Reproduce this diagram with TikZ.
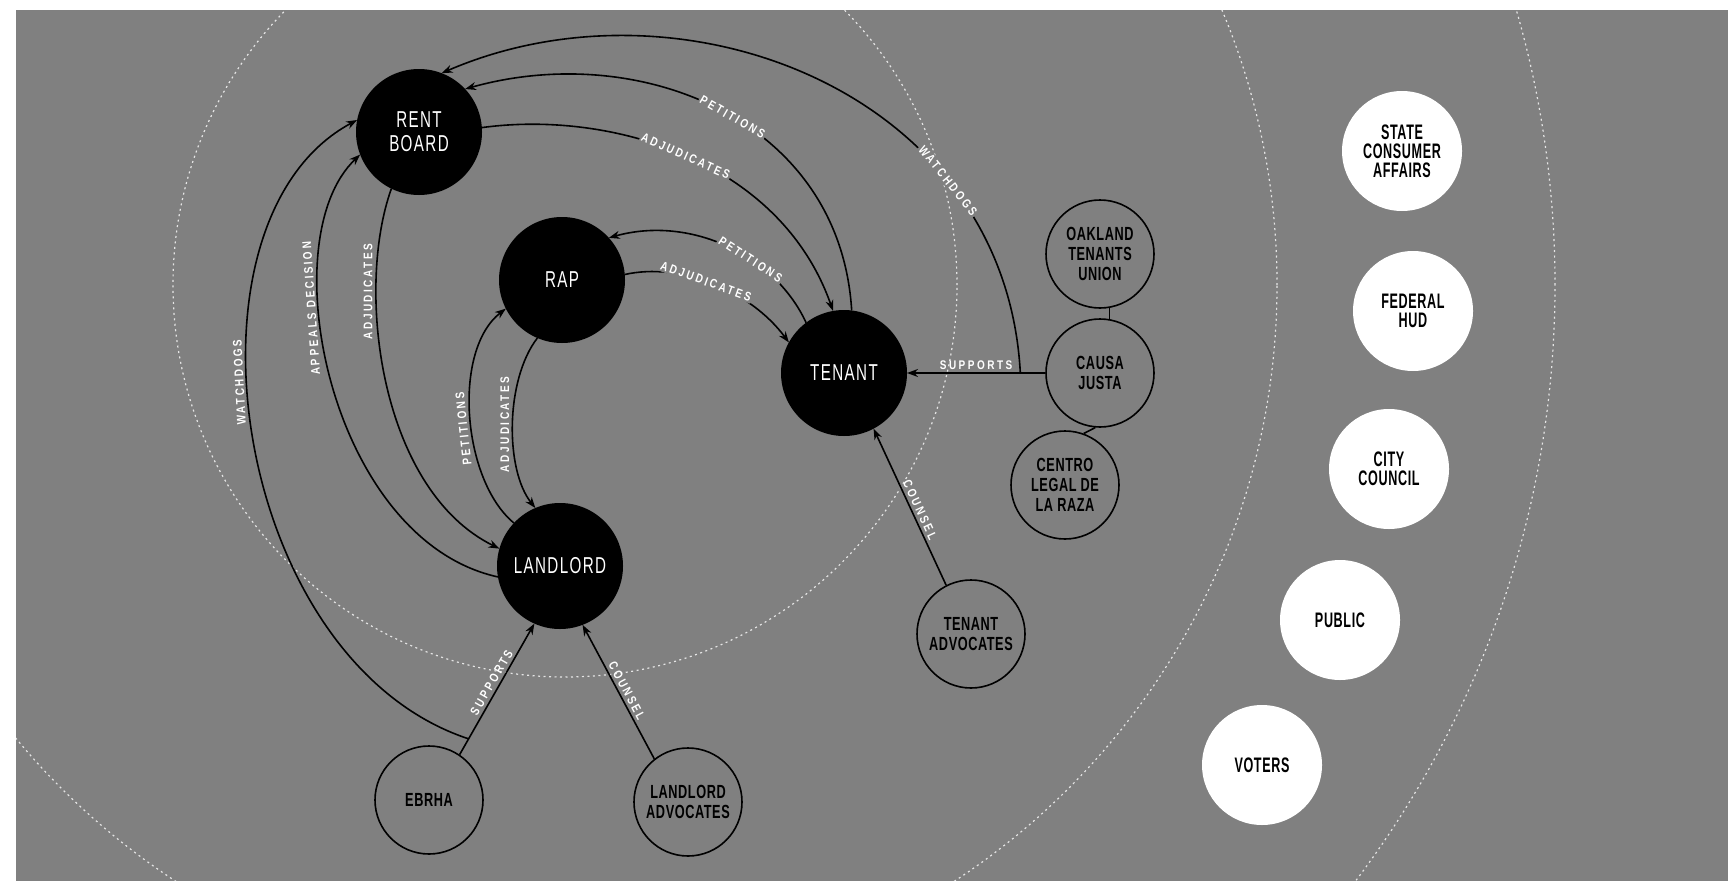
\documentclass[tikz,border=0pt]{standalone}
\usepackage{fontspec}
\setmainfont{Liberation Sans}
\newfontfamily\bnfont{Liberation Sans}[FakeStretch=0.66,LetterSpace=6]
\newfontfamily\wnfont{Liberation Sans}[FakeStretch=0.6,LetterSpace=3]
\newfontfamily\onfont{Liberation Sans}[FakeStretch=0.67,LetterSpace=3]
\newfontfamily\elfont{Liberation Sans}[FakeStretch=0.8,LetterSpace=20]
\usetikzlibrary{arrows.meta,calc}
\definecolor{bg}{RGB}{128,128,128}
\begin{document}
\begin{tikzpicture}[x=1pt,y=-1pt,
  blacknode/.style={circle, fill=black, inner sep=0pt, outer sep=0pt, minimum size=126pt, text=white, align=center, font=\bnfont\fontsize{23}{24}\selectfont},
  whitenode/.style={circle, fill=white, inner sep=0pt, outer sep=0pt, minimum size=120pt, align=center, font=\wnfont\bfseries\fontsize{21}{19}\selectfont},
  ringnode/.style={circle, draw=black, line width=1.6pt, inner sep=0pt, minimum size=108pt, align=center, font=\onfont\bfseries\fontsize{19}{20}\selectfont},
  link/.style={draw=black, line width=1.6pt},
  arr/.style={link, -{Stealth[length=11pt,width=8pt]}},
  elab/.style={font=\elfont\bfseries\fontsize{12.5}{13}\selectfont, text=white, inner sep=1.5pt, outer sep=2pt},
  online/.style={elab, sloped, fill=bg, outer sep=0pt},
  ring/.style={draw=white, line width=1.2pt, dash pattern=on 2pt off 3.5pt, opacity=0.8}
]
\useasboundingbox (0,0) rectangle (1728,891);
\fill[white] (0,0) rectangle (1728,891);
\fill[bg] (16,10) rectangle (1728,881);
\begin{scope}
  \clip (16,10) rectangle (1728,881);
  \draw[ring] (565,285) circle[radius=392pt];
  \draw[ring] (565,285) circle[radius=712pt];
  \draw[ring] (565,285) circle[radius=990pt];
\end{scope}

% main actors
\node[blacknode] (rb)  at (419,132) {RENT\\BOARD};
\node[blacknode] (rap) at (562,280) {RAP};
\node[blacknode] (t)   at (844,373) {TENANT};
\node[blacknode] (ll)  at (560,566) {LANDLORD};

% supporting organisations
\node[ringnode] (otu) at (1100,254) {OAKLAND\\TENANTS\\UNION};
\node[ringnode] (cj)  at (1100,373) {CAUSA\\JUSTA};
\node[ringnode] (clr) at (1065,485) {CENTRO\\LEGAL DE\\LA RAZA};
\node[ringnode] (ta)  at (971,634) {TENANT\\ADVOCATES};
\node[ringnode] (eb)  at (429,800) {EBRHA};
\node[ringnode] (la)  at (688,802) {LANDLORD\\ADVOCATES};

% outer actors
\node[whitenode] (sca) at (1402,151) {STATE\\CONSUMER\\AFFAIRS};
\node[whitenode] (hud) at (1413,311) {FEDERAL\\HUD};
\node[whitenode] (cc)  at (1389,469) {CITY\\COUNCIL};
\node[whitenode] (pub) at (1340,620) {PUBLIC};
\node[whitenode] (vot) at (1262,765) {VOTERS};

% junctions
\coordinate (wj) at ($(cj.west)!0.18!(t.east)$);
\coordinate (ej) at ($(eb.56)!0.12!(ll.246)$);

% tenant side
\draw[link] (otu.-80) -- (cj.80);
\draw[link] (cj.-95) -- (clr.70);
\draw[arr] (cj.west) -- (t.east) node[elab, pos=0.5, anchor=south]{SUPPORTS};
\draw[arr] (ta.117) -- (t.-62) node[elab, pos=0.46, rotate=-65, anchor=south]{COUNSEL};
\draw[arr] (wj) .. controls (1005,90) and (680,-30) .. (rb.69) node[online, pos=0.27]{WATCHDOGS};

% rent board <-> tenant
\draw[arr] (t.83) .. controls (840,120) and (640,40) .. (rb.43) node[online, pos=0.47]{PETITIONS};
\draw[arr] (rb.4) .. controls (610,110) and (780,160) .. (t.100) node[online, pos=0.5]{ADJUDICATES};

% rap <-> tenant
\draw[arr] (t.127) .. controls (775,255) and (690,215) .. (rap.42) node[online, pos=0.38]{PETITIONS};
\draw[arr] (rap.5) .. controls (680,262) and (750,290) .. (t.151) node[online, pos=0.46]{ADJUDICATES};

% rap <-> landlord
\draw[arr] (ll.137) .. controls (462,480) and (452,350) .. (rap.207) node[elab, pos=0.45, rotate=96, anchor=south]{PETITIONS};
\draw[arr] (rap.247) .. controls (505,380) and (505,470) .. (ll.113) node[elab, pos=0.5, rotate=90, anchor=south]{ADJUDICATES};

% rent board <-> landlord
\draw[arr] (rb.244) .. controls (355,290) and (380,490) .. (ll.164) node[elab, pos=0.28, rotate=90, anchor=south]{ADJUDICATES};
\draw[arr] (ll.190) .. controls (330,540) and (270,240) .. (rb.201) node[elab, pos=0.64, rotate=94, anchor=south]{APPEALS DECISION};

% landlord side
\draw[arr] (eb.56) -- (ll.246) node[elab, pos=0.52, rotate=60, anchor=south]{SUPPORTS};
\draw[arr] (ej) .. controls (230,660) and (170,220) .. (rb.169) node[elab, pos=0.57, rotate=93, anchor=south]{WATCHDOGS};
\draw[arr] (la.128) -- (ll.291) node[elab, pos=0.48, rotate=-62, anchor=south]{COUNSEL};
\end{tikzpicture}
\end{document}
